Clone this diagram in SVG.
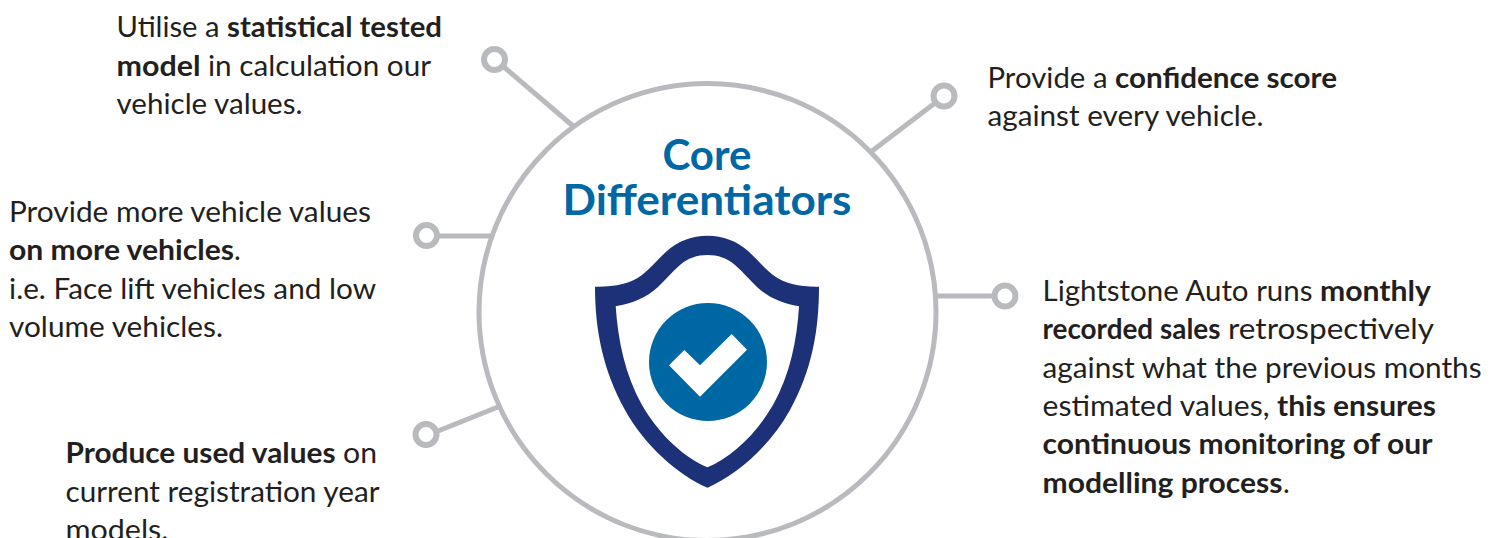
<svg xmlns="http://www.w3.org/2000/svg" width="1499" height="538" viewBox="0 0 1499 538">
<style>
.t{font-family:"Lato","Open Sans","Liberation Sans",sans-serif;font-size:28.5px;fill:#231f20}
.b{font-weight:700}
.h{font-family:"Lato","Open Sans","Liberation Sans",sans-serif;font-size:42px;font-weight:700;fill:#0067a5;text-anchor:middle}
.c{fill:none;stroke:#b9babd;stroke-width:5}
.r{fill:#fff;stroke:#b9babd;stroke-width:6}
</style>
<rect width="1499" height="538" fill="#fff"/>
<g id="connectors">
<line class="c" x1="504" y1="67" x2="573" y2="126"/>
<line class="c" x1="935" y1="103" x2="872" y2="151"/>
<line class="c" x1="439" y1="236" x2="491" y2="236"/>
<line class="c" x1="937" y1="296" x2="994" y2="296"/>
<line class="c" x1="438" y1="431" x2="498" y2="407"/>
</g>
<g id="hub">
<circle cx="707.5" cy="312" r="228.5" fill="none" stroke="#b9babd" stroke-width="5"/>
<text class="h" x="707" y="170">Core</text>
<text class="h" x="707" y="215" textLength="289" lengthAdjust="spacingAndGlyphs">Differentiators</text>
</g>
<g id="shield">
<path fill="#1d3178" d="M595,286.7C615,287 630,284 642,275C652,267 658,259 667,251C678,241 692,235.7 707.5,235.7C723,235.7 737,241 748,251C757,259 763,267 773,275C785,284 800,287 819,286.7C819,330 812,370 790,410C770,446 737,475 707.5,487.7C678,475 645,446 625,410C603,370 595,330 595,286.7Z"/>
<path fill="#fff" d="M615.7,306.3C633,303 646,298 658,287C666,279 672,272 680,265C688,258 697,255 707.5,255C718,255 727,258 735,265C743,272 749,279 757,287C769,298 782,303 799,306.3C797,340 790,375 773,405C755,436 730,458 707.5,467.3C685,458 660,436 642,405C625,375 618,340 615.7,306.3Z"/>
<circle cx="708" cy="362" r="59" fill="#0067a5"/>
<path fill="#fff" d="M669,365.3L684.3,350L700,365.3L731.7,334L747,349.7L700,396.7Z"/>
</g>
<g id="node-statistical">
<circle class="r" cx="494.500" cy="59.500" r="10.500"/>
<text class="t"><tspan x="116.500" y="37" textLength="103" lengthAdjust="spacingAndGlyphs">Utilise a</tspan><tspan class="b" x="227" y="37" textLength="215" lengthAdjust="spacingAndGlyphs">statistical tested</tspan></text>
<text class="t"><tspan class="b" x="116.500" y="76" textLength="84" lengthAdjust="spacingAndGlyphs">model</tspan><tspan x="208" y="76" textLength="223" lengthAdjust="spacingAndGlyphs">in calculation our</tspan></text>
<text class="t" x="116.500" y="114" textLength="186" lengthAdjust="spacingAndGlyphs">vehicle values.</text>
</g>
<g id="node-confidence">
<circle class="r" cx="944" cy="96" r="10.500"/>
<text class="t"><tspan x="987.500" y="88" textLength="120" lengthAdjust="spacingAndGlyphs">Provide a</tspan><tspan class="b" x="1115" y="88" textLength="222" lengthAdjust="spacingAndGlyphs">confidence score</tspan></text>
<text class="t" x="987.500" y="126" textLength="276" lengthAdjust="spacingAndGlyphs">against every vehicle.</text>
</g>
<g id="node-more">
<circle class="r" cx="426.500" cy="235.500" r="10.500"/>
<text class="t" x="9" y="222" textLength="362" lengthAdjust="spacingAndGlyphs">Provide more vehicle values</text>
<text class="t"><tspan class="b" x="9" y="260" textLength="225" lengthAdjust="spacingAndGlyphs">on more vehicles</tspan><tspan x="234" y="260">.</tspan></text>
<text class="t" x="9" y="299" textLength="367" lengthAdjust="spacingAndGlyphs">i.e. Face lift vehicles and low</text>
<text class="t" x="9" y="337" textLength="214" lengthAdjust="spacingAndGlyphs">volume vehicles.</text>
</g>
<g id="node-monthly">
<circle class="r" cx="1005" cy="296" r="10.500"/>
<text class="t"><tspan x="1042.500" y="301" textLength="270" lengthAdjust="spacingAndGlyphs">Lightstone Auto runs</tspan><tspan class="b" x="1320" y="301" textLength="111" lengthAdjust="spacingAndGlyphs">monthly</tspan></text>
<text class="t"><tspan class="b" x="1042.500" y="339" textLength="178" lengthAdjust="spacingAndGlyphs">recorded sales</tspan><tspan x="1228" y="339" textLength="206" lengthAdjust="spacingAndGlyphs">retrospectively</tspan></text>
<text class="t" x="1042.500" y="378" textLength="439" lengthAdjust="spacingAndGlyphs">against what the previous months</text>
<text class="t"><tspan x="1042.500" y="416" textLength="227" lengthAdjust="spacingAndGlyphs">estimated values,</tspan><tspan class="b" x="1277" y="416" textLength="159" lengthAdjust="spacingAndGlyphs">this ensures</tspan></text>
<text class="t b" x="1042.500" y="454" textLength="390" lengthAdjust="spacingAndGlyphs">continuous monitoring of our</text>
<text class="t"><tspan class="b" x="1042.500" y="493" textLength="240" lengthAdjust="spacingAndGlyphs">modelling process</tspan><tspan x="1283" y="493">.</tspan></text>
</g>
<g id="node-used">
<circle class="r" cx="426" cy="434.500" r="10.500"/>
<text class="t"><tspan class="b" x="65.500" y="463" textLength="270" lengthAdjust="spacingAndGlyphs">Produce used values</tspan><tspan x="343" y="463" textLength="34" lengthAdjust="spacingAndGlyphs">on</tspan></text>
<text class="t" x="65.500" y="502" textLength="314" lengthAdjust="spacingAndGlyphs">current registration year</text>
<text class="t" x="65.500" y="540" textLength="103" lengthAdjust="spacingAndGlyphs">models.</text>
</g>
</svg>
